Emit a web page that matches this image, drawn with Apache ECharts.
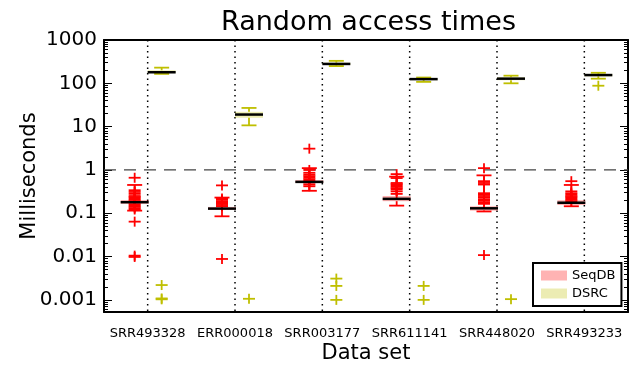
<!DOCTYPE html>
<html>
<head>
<meta charset="UTF-8">
<title>Random access times</title>
<script src="https://cdn.jsdelivr.net/npm/echarts/dist/echarts.min.js"></script>
<style>html,body{margin:0;padding:0;background:#fff}#main{width:629px;height:369px}</style>
</head>
<body>
<div id="main"></div>
<script>
var categories = ['SRR493328', 'ERR000018', 'SRR003177', 'SRR611141', 'SRR448020', 'SRR493233'];

// box stats per data set, ms: [low whisker, Q1, median, Q3, high whisker]
var seqdbBoxes = [
    [0.115, 0.165, 0.18, 0.2, 0.45],
    [0.085, 0.12, 0.128, 0.14, 0.23],
    [0.33, 0.5, 0.53, 0.58, 1.1],
    [0.15, 0.19, 0.215, 0.25, 0.7],
    [0.11, 0.115, 0.13, 0.145, 0.75],
    [0.145, 0.155, 0.175, 0.2, 0.45]
];
var dsrcBoxes = [
    [165, 172, 180, 200, 230],
    [10.7, 16, 19, 22, 27],
    [250, 265, 280, 300, 330],
    [108, 118, 125, 130, 136],
    [100, 118, 128, 138, 150],
    [128, 145, 155, 165, 175]
];
// outliers ('+') per data set, ms
var seqdbFliers = [
    [0.66, 0.34, 0.31, 0.28, 0.25, 0.235, 0.22, 0.205, 0.19, 0.175, 0.16, 0.15, 0.14, 0.13, 0.122, 0.064, 0.0105, 0.0098],
    [0.44, 0.22, 0.205, 0.19, 0.175, 0.165, 0.155, 0.145, 0.0088],
    [3.1, 1.0, 0.86, 0.78, 0.72, 0.66, 0.61, 0.56, 0.51, 0.46, 0.42],
    [0.8, 0.65, 0.5, 0.47, 0.44, 0.41, 0.38, 0.355, 0.32, 0.28],
    [1.1, 0.55, 0.5, 0.46, 0.29, 0.27, 0.25, 0.23, 0.21, 0.195, 0.18, 0.165, 0.0108],
    [0.55, 0.32, 0.29, 0.27, 0.25, 0.235, 0.22, 0.205, 0.19]
];
var dsrcFliers = [
    [0.0022, 0.00108, 0.00103],
    [0.00106],
    [0.0031, 0.0021, 0.001],
    [0.0021, 0.001],
    [0.00104],
    [88]
];
var yTickLabels = ['0.001', '0.01', '0.1', '1', '10', '100', '1000'];

var FONT = 'DejaVu Sans';
var YMIN = Math.log10(0.000525), YMAX = 3;
var majors = [-3, -2, -1, 0, 1, 2, 3];
var minors = [];
for (var e = -4; e < 3; e++) {
    for (var k = 2; k < 10; k++) {
        var mv = e + Math.log10(k);
        if (mv > YMIN && mv < YMAX) minors.push(mv);
    }
}

function lg(v) { return Math.log10(v); }
function boxData(boxes) {
    return boxes.map(function (b, i) { return [i].concat(b.map(lg)); });
}
function flierData(fl) {
    var out = [];
    fl.forEach(function (list, i) {
        list.forEach(function (v) { out.push([i, lg(v)]); });
    });
    return out;
}

function boxRenderer(offset, line, fill) {
    return function (params, api) {
        var i = api.value(0);
        var lo = api.coord([i, api.value(1)]);
        var q1 = api.coord([i, api.value(2)]);
        var md = api.coord([i, api.value(3)]);
        var q3 = api.coord([i, api.value(4)]);
        var hi = api.coord([i, api.value(5)]);
        var cx = lo[0] + offset, hw = 14, cw = 7.5;
        var st = {stroke: line, lineWidth: 1.8};
        return {type: 'group', children: [
            {type: 'rect', shape: {x: cx - hw, y: q3[1], width: 2 * hw, height: Math.max(q1[1] - q3[1], 1)}, style: {fill: fill}},
            {type: 'line', shape: {x1: cx, y1: q3[1], x2: cx, y2: hi[1]}, style: st},
            {type: 'line', shape: {x1: cx, y1: q1[1], x2: cx, y2: lo[1]}, style: st},
            {type: 'line', shape: {x1: cx - cw, y1: hi[1], x2: cx + cw, y2: hi[1]}, style: st},
            {type: 'line', shape: {x1: cx - cw, y1: lo[1], x2: cx + cw, y2: lo[1]}, style: st},
            {type: 'line', shape: {x1: cx - hw, y1: md[1], x2: cx + hw, y2: md[1]}, style: {stroke: '#000', lineWidth: 2.5}}
        ]};
    };
}

function flierRenderer(offset, line) {
    return function (params, api) {
        var p = api.coord([api.value(0), api.value(1)]);
        var x = p[0] + offset, y = p[1];
        var st = {stroke: line, lineWidth: 1.8};
        return {type: 'group', children: [
            {type: 'line', shape: {x1: x - 6, y1: y, x2: x + 6, y2: y}, style: st},
            {type: 'line', shape: {x1: x, y1: y - 5, x2: x, y2: y + 5}, style: st}
        ]};
    };
}

function guideRenderer(params, api) {
    var cs = params.coordSys;
    var x = api.coord([api.value(0), 0])[0];
    var kids = [{type: 'line', shape: {x1: x, y1: cs.y, x2: x, y2: cs.y + cs.height},
        style: {stroke: '#000', lineWidth: 1.5, lineDash: [1.5, 4]}}];
    if (params.dataIndex === 0) {
        var y = api.coord([0, 0])[1];
        kids.push({type: 'line', shape: {x1: cs.x, y1: y, x2: cs.x + cs.width, y2: y},
            style: {stroke: '#444', lineWidth: 1.2, lineDash: [12, 8]}});
    }
    return {type: 'group', children: kids};
}

function yAxisBase(pos, values, len, withLine) {
    return {
        type: 'value', position: pos, min: YMIN, max: YMAX,
        axisLine: {show: withLine, onZero: false, lineStyle: {color: '#000', width: 2}},
        axisTick: {show: true, inside: true, length: len, customValues: values, lineStyle: {color: '#000', width: 1}},
        axisLabel: {show: false},
        splitLine: {show: false}
    };
}

var yLeft = yAxisBase('left', majors, 8, true);
yLeft.axisLabel = {
    show: true, customValues: majors, margin: 7, fontFamily: FONT, fontSize: 20, color: '#000',
    formatter: function (v) { return yTickLabels[Math.round(v) + 3]; }
};
yLeft.name = 'Milliseconds';
yLeft.nameLocation = 'middle';
yLeft.nameRotate = 90;
yLeft.nameGap = 64;
yLeft.nameMoveOverlap = false;
yLeft.nameTextStyle = {fontFamily: FONT, fontSize: 21, color: '#000'};

var myChart = echarts.init(document.getElementById('main'));
var option = {
    animation: false,
    backgroundColor: '#fff',
    title: {
        text: 'Random access times', left: 221, top: 9, padding: 0,
        textStyle: {fontFamily: FONT, fontSize: 27, fontWeight: 'normal', color: '#000'}
    },
    legend: {
        data: [{name: 'SeqDB', itemStyle: {color: '#ffb3b3'}}, {name: 'DSRC', itemStyle: {color: '#ececb3'}}],
        orient: 'vertical', left: 533, top: 263, icon: 'rect',
        itemWidth: 26, itemHeight: 10, itemGap: 5, padding: [6, 6, 6, 8],
        borderColor: '#000', borderWidth: 2, borderRadius: 0, backgroundColor: '#fff',
        textStyle: {fontFamily: FONT, fontSize: 13, color: '#000'},
        selectedMode: false
    },
    grid: {left: 104, right: 1, top: 40, bottom: 57},
    xAxis: [{
        type: 'category', data: categories, position: 'bottom',
        axisLine: {onZero: false, lineStyle: {color: '#000', width: 2}},
        axisTick: {alignWithLabel: true, length: 8, lineStyle: {color: '#333', width: 1.5}},
        axisLabel: {fontFamily: FONT, fontSize: 13, color: '#000', margin: 15, interval: 0},
        splitLine: {show: false},
        name: 'Data set', nameLocation: 'middle', nameGap: 31, nameMoveOverlap: false,
        nameTextStyle: {fontFamily: FONT, fontSize: 21, color: '#000'}
    }, {
        type: 'category', data: categories, position: 'top',
        axisLine: {onZero: false, lineStyle: {color: '#000', width: 2}},
        axisTick: {show: false}, axisLabel: {show: false}, splitLine: {show: false}
    }],
    yAxis: [
        yLeft,
        yAxisBase('left', minors, 4, false),
        yAxisBase('right', majors, 8, true),
        yAxisBase('right', minors, 4, false)
    ],
    series: [{
        name: 'guides', type: 'custom', z: 1, silent: true,
        data: categories.map(function (c, i) { return [i, 0]; }),
        encode: {x: 0, y: 1},
        renderItem: guideRenderer
    }, {
        name: 'SeqDB outliers', type: 'custom', z: 2, silent: true,
        data: flierData(seqdbFliers), encode: {x: 0, y: 1},
        renderItem: flierRenderer(-13, '#ff0000')
    }, {
        name: 'DSRC outliers', type: 'custom', z: 2, silent: true,
        data: flierData(dsrcFliers), encode: {x: 0, y: 1},
        renderItem: flierRenderer(14, '#bfbf00')
    }, {
        name: 'SeqDB', type: 'custom', z: 3, silent: true,
        itemStyle: {color: '#ffb3b3'},
        data: boxData(seqdbBoxes), encode: {x: 0, y: [1, 2, 3, 4, 5]},
        renderItem: boxRenderer(-13, '#ff0000', 'rgba(255,0,0,0.3)')
    }, {
        name: 'DSRC', type: 'custom', z: 3, silent: true,
        itemStyle: {color: '#ececb3'},
        data: boxData(dsrcBoxes), encode: {x: 0, y: [1, 2, 3, 4, 5]},
        renderItem: boxRenderer(14, '#bfbf00', 'rgba(191,191,0,0.3)')
    }]
};
myChart.setOption(option);
</script>
</body>
</html>
